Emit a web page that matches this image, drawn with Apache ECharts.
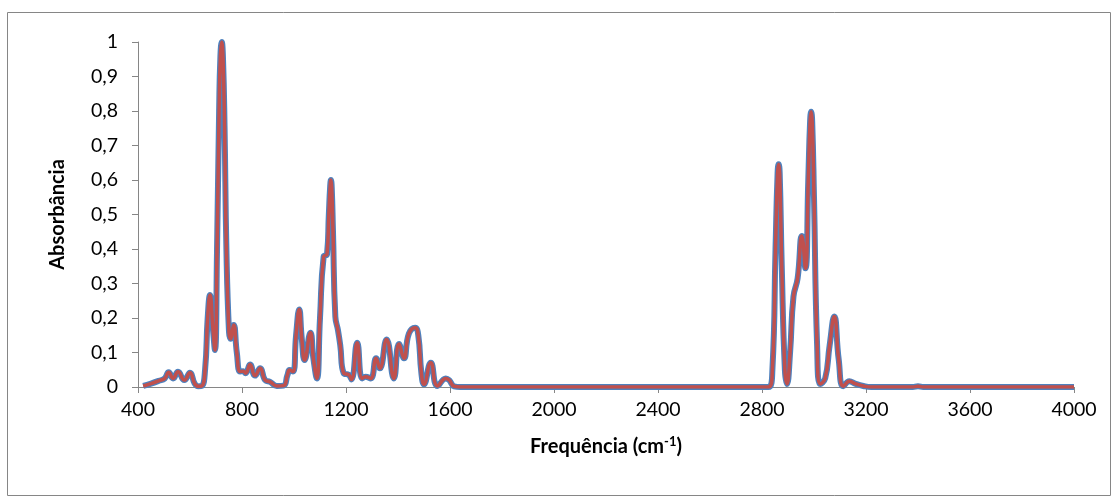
<!DOCTYPE html>
<html>
<head>
<meta charset="utf-8">
<script src="https://cdn.jsdelivr.net/npm/echarts@6/dist/echarts.min.js"></script>
<style>
html,body{margin:0;padding:0;background:#fff;}
#c{width:1118px;height:503px;}
</style>
</head>
<body>
<div id="c"></div>
<script>
// Frequency (cm-1) and absorbance
const freqs = [420,450,480,503,518,535,554,578,600,618,632,645,658,668,677,688,696,704,712,717,722,727,733,740,750,756,768,780,793,805,814,831,850,870,889,908,934,960,975,983,996,1008,1020,1030,1041,1063,1075,1088,1100,1114,1127,1134,1139,1142,1145,1150,1159,1169,1178,1191,1211,1221,1243,1262,1275,1295,1316,1330,1356,1384,1404,1423,1442,1466,1478,1490,1500,1526,1552,1584,1597,1616,1640,2000,2400,2800,2825,2840,2852,2860,2864,2868,2876,2888,2896,2908,2921,2937,2953,2967,2978,2985,2989,2993,3000,3012,3024,3043,3060,3078,3095,3113,3136,3158,3190,3220,3380,3400,3420,3600,4000];
const absorbance = [0.003,0.01,0.018,0.025,0.043,0.025,0.044,0.02,0.041,0.01,0.002,0.003,0.05,0.2,0.267,0.17,0.107,0.4,0.8,0.96,1.0,0.95,0.75,0.4,0.16,0.14,0.18,0.1,0.045,0.046,0.04,0.065,0.033,0.054,0.02,0.015,0.003,0.004,0.035,0.049,0.045,0.15,0.225,0.14,0.078,0.157,0.08,0.025,0.2,0.378,0.385,0.5,0.58,0.6,0.58,0.45,0.204,0.165,0.12,0.04,0.035,0.022,0.128,0.025,0.03,0.025,0.083,0.054,0.138,0.025,0.125,0.083,0.155,0.172,0.15,0.04,0.008,0.07,0.003,0.025,0.02,0.002,0,0,0,0,0,0.05,0.4,0.62,0.646,0.62,0.35,0.05,0.009,0.1,0.262,0.315,0.438,0.344,0.6,0.77,0.798,0.77,0.55,0.12,0.009,0.025,0.12,0.204,0.08,0.002,0.017,0.01,0.003,0,0,0.002,0,0,0];
const xTicks = [400,800,1200,1600,2000,2400,2800,3200,3600,4000];
const yTickLabels = ['0','0,1','0,2','0,3','0,4','0,5','0,6','0,7','0,8','0,9','1'];

const data = freqs.map((f,i)=>[f, absorbance[i]]);
const FONT = 'Lato';
const axisGray = '#868686';

const chart = echarts.init(document.getElementById('c'), null, {renderer:'canvas'});
chart.setOption({
  animation:false,
  backgroundColor:'#fff',
  textStyle:{fontFamily:FONT},
  grid:{left:138, right:44, top:42, bottom:116, containLabel:false},
  graphic:[{
    type:'rect', silent:true,
    shape:{x:7.5, y:12.5, width:1103, height:483},
    style:{fill:'none', stroke:axisGray, lineWidth:1}
  }],
  xAxis:{
    type:'value', min:xTicks[0], max:xTicks[xTicks.length-1], interval:400,
    name:'{b|Frequência (cm}{sup|-1}{b|)}',
    nameLocation:'middle', nameGap:48,
    nameTextStyle:{
      rich:{
        b:{fontFamily:FONT, fontWeight:'bold', fontSize:20, color:'#000'},
        sup:{fontFamily:FONT, fontWeight:'bold', fontSize:13, color:'#000', padding:[0,0,10,0]}
      }
    },
    axisLine:{show:true, lineStyle:{color:axisGray, width:1}},
    axisTick:{show:true, inside:false, length:6, lineStyle:{color:axisGray}},
    axisLabel:{color:'#000', fontSize:19.5, fontFamily:FONT, margin:13,
      formatter:(v)=>String(v)},
    splitLine:{show:false}
  },
  yAxis:{
    type:'value', min:0, max:1, interval:0.1,
    name:'Absorbância', nameLocation:'middle', nameGap:70,
    nameTextStyle:{fontFamily:FONT, fontWeight:'bold', fontSize:20, color:'#000'},
    axisLine:{show:true, lineStyle:{color:axisGray, width:1}},
    axisTick:{show:true, inside:false, length:6, lineStyle:{color:axisGray}},
    axisLabel:{color:'#000', fontSize:19.5, fontFamily:FONT, margin:20,
      formatter:(v)=>yTickLabels[Math.round(v*10)]},
    splitLine:{show:false}
  },
  series:[
    {type:'line', data:data, showSymbol:false, smooth:0.5,
     lineStyle:{color:'#4F81BD', width:6}, z:2, clip:true},
    {type:'line', data:data, showSymbol:false, smooth:0.5,
     lineStyle:{color:'#C0504D', width:3.5}, z:3, clip:true}
  ]
});
</script>
</body>
</html>
